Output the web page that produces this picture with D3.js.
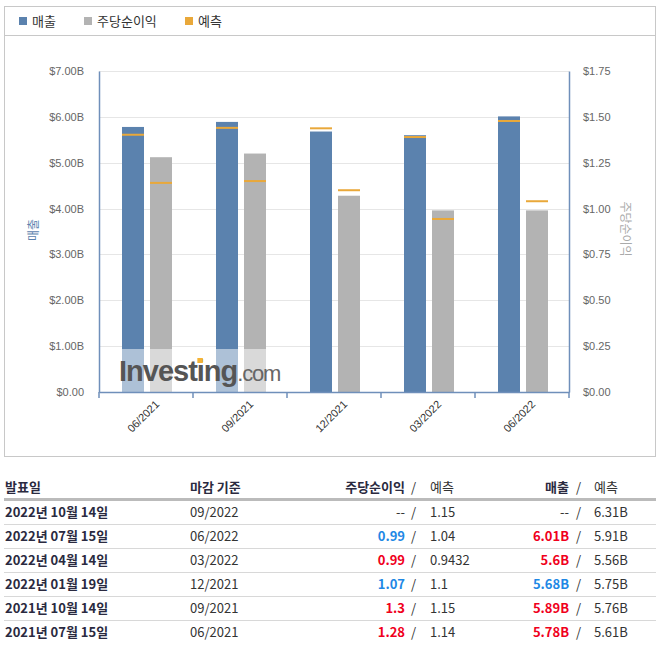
<!DOCTYPE html>
<html>
<head>
<meta charset="utf-8">
<script src="https://cdn.jsdelivr.net/npm/d3@7"></script>
<style>
  body { margin: 0; background: #fff; }
  svg { display: block; }
</style>
</head>
<body>
<svg id="chart" width="664" height="648"></svg>
<script>
// earnings rows, newest first (as in the table)
const reportDates = ["2022년 10월 14일", "2022년 07월 15일", "2022년 04월 14일", "2022년 01월 19일", "2021년 10월 14일", "2021년 07월 15일"];
const periods = ["09/2022", "06/2022", "03/2022", "12/2021", "09/2021", "06/2021"];
const epsActual = [null, 0.99, 0.99, 1.07, 1.3, 1.28];
const epsForecast = [1.15, 1.04, 0.9432, 1.1, 1.15, 1.14];
const revActual = [null, 6.01, 5.6, 5.68, 5.89, 5.78];
const revForecast = [6.31, 5.91, 5.56, 5.75, 5.76, 5.61];
const revTicks = [0, 1, 2, 3, 4, 5, 6, 7];
const epsTicks = [0, 0.25, 0.5, 0.75, 1, 1.25, 1.5, 1.75];

const BLUE = "#5b82ae", GRAY = "#b3b3b3", ORANGE = "#e9a83a";
const chartFont = "'Liberation Sans', Arial, sans-serif";
const krFont = "'Noto Sans CJK KR', 'Noto Sans', sans-serif";

const svg = d3.select("#chart");

// chart rows = reported quarters only, oldest first
const rows = periods.map((p, i) => ({
    period: p, eps: epsActual[i], epsF: epsForecast[i], rev: revActual[i], revF: revForecast[i]
})).filter(d => d.rev != null).reverse();

const plot = { left: 99, right: 569, top: 71, bottom: 392 };

const x = d3.scaleBand().domain(rows.map(d => d.period)).range([plot.left, plot.right]);
const yRev = d3.scaleLinear().domain([0, 7]).range([plot.bottom, plot.top]);
const yEps = d3.scaleLinear().domain([0, 1.75]).range([plot.bottom, plot.top]);

// frame + legend
svg.append("rect").attr("x", 4.5).attr("y", 6.5).attr("width", 651).attr("height", 450)
    .attr("fill", "#fff").attr("stroke", "#c8c8c8");
svg.append("line").attr("x1", 5).attr("x2", 655).attr("y1", 35.5).attr("y2", 35.5).attr("stroke", "#c8c8c8");

const legend = [["매출", BLUE, 19], ["주당순이익", GRAY, 84], ["예측", ORANGE, 185]];
legend.forEach(([label, color, lx]) => {
    svg.append("rect").attr("x", lx).attr("y", 17).attr("width", 8).attr("height", 8).attr("fill", color);
    svg.append("text").attr("x", lx + 13).attr("y", 26).attr("font-family", krFont)
        .attr("font-size", 13).attr("fill", "#333").text(label);
});

// grid
svg.append("g").selectAll("line").data(revTicks).join("line")
    .attr("x1", plot.left).attr("x2", plot.right)
    .attr("y1", d => Math.round(yRev(d)) + 0.5).attr("y2", d => Math.round(yRev(d)) + 0.5)
    .attr("stroke", "#e6e6e6");

// bars
const bw = 22;
svg.append("g").selectAll("rect").data(rows).join("rect")
    .attr("x", d => x(d.period) + 23).attr("width", bw)
    .attr("y", d => yRev(d.rev)).attr("height", d => yRev(0) - yRev(d.rev))
    .attr("fill", BLUE);
svg.append("g").selectAll("rect").data(rows).join("rect")
    .attr("x", d => x(d.period) + 51).attr("width", bw)
    .attr("y", d => yEps(d.eps)).attr("height", d => yEps(0) - yEps(d.eps))
    .attr("fill", GRAY);

// forecast markers
svg.append("g").selectAll("rect").data(rows).join("rect")
    .attr("x", d => x(d.period) + 23).attr("width", bw)
    .attr("y", d => yRev(d.revF) - 1).attr("height", 2).attr("fill", ORANGE);
svg.append("g").selectAll("rect").data(rows).join("rect")
    .attr("x", d => x(d.period) + 51).attr("width", bw)
    .attr("y", d => yEps(d.epsF) - 1).attr("height", 2).attr("fill", ORANGE);

// watermark
const wm = svg.append("g");
wm.append("rect").attr("x", 116).attr("y", 349).attr("width", 168).attr("height", 43)
    .attr("fill", "#fff").attr("opacity", 0.5);
const wmText = wm.append("text").attr("x", 119).attr("y", 381).attr("font-family", chartFont);
wmText.append("tspan").attr("font-weight", "bold").attr("font-size", 29).attr("fill", "#555")
    .attr("letter-spacing", -1).text("Investing");
wmText.append("tspan").attr("font-size", 22).attr("fill", "#666")
    .attr("letter-spacing", -1.2).text(".com");
// orange dot over the "i" of "ting"
const iBox = wmText.node().getExtentOfChar(6);
wm.append("rect").attr("x", iBox.x + iBox.width / 2 - 3).attr("y", 358).attr("width", 5.5).attr("height", 5)
    .attr("fill", "#f5b335");

// axes
const axisColor = "#6f8fba";
const leftAxis = svg.append("g").attr("transform", `translate(${plot.left},0)`)
    .call(d3.axisLeft(yRev).tickValues(revTicks).tickSize(0).tickPadding(15)
        .tickFormat(d => "$" + d3.format(".2f")(d) + (d === 0 ? "" : "B")));
leftAxis.select(".domain").attr("stroke", axisColor).attr("stroke-width", 1.5);

const rightAxis = svg.append("g").attr("transform", `translate(${plot.right},0)`)
    .call(d3.axisRight(yEps).tickValues(epsTicks).tickSize(0).tickPadding(14)
        .tickFormat(d => "$" + d3.format(".2f")(d)));
rightAxis.select(".domain").attr("stroke", axisColor).attr("stroke-width", 1.5);

[leftAxis, rightAxis].forEach(a => a.selectAll("text")
    .attr("font-family", chartFont).attr("font-size", 11).attr("fill", "#666"));

const bottomAxis = svg.append("g").attr("transform", `translate(0,${plot.bottom})`)
    .call(d3.axisBottom(x).tickSize(0).tickFormat(""));
bottomAxis.select(".domain").attr("stroke", axisColor).attr("stroke-width", 1.5);
bottomAxis.selectAll(".tick").remove();
bottomAxis.selectAll("line.sep").data(x.domain().map(d => x(d)).concat([plot.right])).join("line")
    .attr("class", "sep").attr("x1", d => d).attr("x2", d => d).attr("y1", 0).attr("y2", 6)
    .attr("stroke", axisColor).attr("stroke-width", 1.5);
bottomAxis.selectAll("text.lab").data(rows).join("text")
    .attr("class", "lab")
    .attr("transform", d => `translate(${x(d.period) + x.bandwidth() / 2 + 14},${13}) rotate(-45)`)
    .attr("text-anchor", "end").attr("font-family", chartFont).attr("font-size", 11)
    .attr("fill", "#333").text(d => d.period);

// axis titles
svg.append("text").attr("transform", "translate(38,230) rotate(-90)").attr("text-anchor", "middle")
    .attr("font-family", krFont).attr("font-size", 12).attr("fill", BLUE).text("매출");
svg.append("text").attr("transform", "translate(621,229) rotate(90)").attr("text-anchor", "middle")
    .attr("font-family", krFont).attr("font-size", 12).attr("fill", "#aaa").text("주당순이익");

// table
const table = svg.append("g").attr("font-family", krFont).attr("font-size", 13);
const headY = 492, rowY0 = 517, rowH = 24;
const dark = "#2a2a40";

table.append("text").attr("x", 5).attr("y", headY).attr("font-weight", "bold").attr("fill", dark).text("발표일");
table.append("text").attr("x", 190).attr("y", headY).attr("font-weight", "bold").attr("fill", dark).text("마감 기준");
table.append("text").attr("x", 405).attr("y", headY).attr("text-anchor", "end").attr("font-weight", "bold").attr("fill", dark).text("주당순이익");
table.append("text").attr("x", 411).attr("y", headY).attr("fill", "#333").text("/");
table.append("text").attr("x", 430).attr("y", headY).attr("fill", "#333").text("예측");
table.append("text").attr("x", 569).attr("y", headY).attr("text-anchor", "end").attr("font-weight", "bold").attr("fill", dark).text("매출");
table.append("text").attr("x", 576).attr("y", headY).attr("fill", "#333").text("/");
table.append("text").attr("x", 594).attr("y", headY).attr("fill", "#333").text("예측");

table.append("rect").attr("x", 4).attr("y", 498).attr("width", 652).attr("height", 3).attr("fill", "#bbb");

const RED = "#f0001c", LIGHTBLUE = "#1e88e5";
const fmtRev = v => v + "B";
reportDates.forEach((date, i) => {
    const y = rowY0 + i * rowH;
    if (i > 0) {
        table.append("line").attr("x1", 4).attr("x2", 656)
            .attr("y1", y - 16.5).attr("y2", y - 16.5).attr("stroke", "#d8d8d8");
    }
    table.append("text").attr("x", 5).attr("y", y).attr("font-weight", "bold").attr("fill", dark).text(date);
    table.append("text").attr("x", 190).attr("y", y).attr("fill", "#333").text(periods[i]);

    const eps = epsActual[i];
    table.append("text").attr("x", 405).attr("y", y).attr("text-anchor", "end")
        .attr("font-weight", eps == null ? "normal" : "bold")
        .attr("fill", eps == null ? "#333" : (eps > epsForecast[i] ? RED : LIGHTBLUE))
        .text(eps == null ? "--" : eps);
    table.append("text").attr("x", 411).attr("y", y).attr("fill", "#333").text("/");
    table.append("text").attr("x", 430).attr("y", y).attr("fill", "#333").text(epsForecast[i]);

    const rev = revActual[i];
    table.append("text").attr("x", 569).attr("y", y).attr("text-anchor", "end")
        .attr("font-weight", rev == null ? "normal" : "bold")
        .attr("fill", rev == null ? "#333" : (rev > revForecast[i] ? RED : LIGHTBLUE))
        .text(rev == null ? "--" : fmtRev(rev));
    table.append("text").attr("x", 576).attr("y", y).attr("fill", "#333").text("/");
    table.append("text").attr("x", 594).attr("y", y).attr("fill", "#333").text(fmtRev(revForecast[i]));
});
</script>
</body>
</html>
